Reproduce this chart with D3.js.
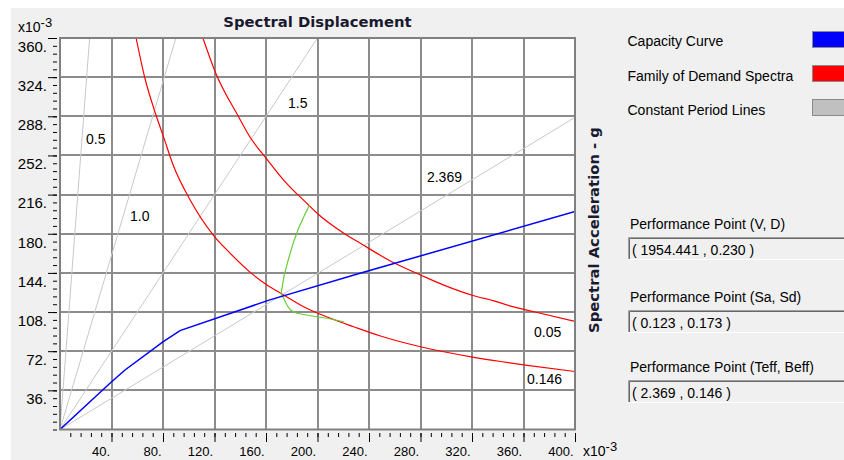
<!DOCTYPE html>
<html>
<head>
<meta charset="utf-8">
<script src="https://cdn.jsdelivr.net/npm/d3@7"></script>
<style>
  body { margin: 0; background: #fff; }
  svg { display: block; }
</style>
</head>
<body>
<div id="chart"></div>
<script>
// --- DATA (Sd, Sa in units of 1e-3) ---
const xTicks = [40, 80, 120, 160, 200, 240, 280, 320, 360, 400];
const yTicks = [36, 72, 108, 144, 180, 216, 252, 288, 324, 360];

const capacityCurve = [[0, 0], [38.8, 42.5], [50.5, 54.7], [80.2, 80.7], [93.2, 90.9],
  [163, 119.2], [233, 143.6], [400, 200.5]];

const demand005 = [[111, 360], [120.5, 329], [138.7, 287.6], [147.8, 268.5], [160.8, 248.5],
  [173.7, 229.4], [193.1, 206.4], [199.7, 198.8], [220.1, 180.7], [233.3, 171.2], [259.2, 153.3],
  [280, 142.1], [298.1, 132.8], [321.5, 123], [337, 118.3], [350, 113.5], [368.1, 108.3], [400, 99.5]];

const demand0146 = [[59.1, 360], [66.1, 322.3], [73.9, 291.5], [80.3, 269.5], [88.1, 242.5],
  [101.1, 211], [119.2, 178.5], [132.2, 162], [147.8, 144.5], [160.8, 132.9], [173.7, 123.7],
  [189.2, 112.9], [210, 102.3], [228.1, 94.5], [248.9, 86], [280, 76.1], [321.5, 66.4],
  [342.2, 62.5], [363, 59], [400, 53.3]];

const demandLocus = [[193.9, 206.4], [190.6, 198.8], [185.3, 185], [181.5, 172.7], [177.6, 157.4],
  [174.2, 142.1], [171.7, 125.2], [173.7, 120.6], [176.3, 114.5], [178.9, 109.9], [184.1, 106.9],
  [194.4, 104.6], [207.4, 102.3], [220.4, 99.1]];

// constant period lines: from origin to where they leave the plot
const periodLines = [
  { label: "0.5", end: [23, 360], at: [20.2, 262.5] },
  { label: "1.0", end: [90, 360], at: [54.4, 191.7] },
  { label: "1.5", end: [200, 360], at: [177.1, 295.6] },
  { label: "2.369", end: [400, 287], at: [285, 227.6] }
];

const dampingLabels = [
  { label: "0.05", at: [368.2, 85.1] },
  { label: "0.146", at: [362.7, 41.8] }
];

const legendItems = [
  { label: "Capacity Curve", color: "#0000ff" },
  { label: "Family of Demand Spectra", color: "#ff0000" },
  { label: "Constant Period Lines", color: "#c0c0c0" }
];

const perfPoints = [
  { label: "Performance Point (V, D)", value: "( 1954.441 , 0.230 )" },
  { label: "Performance Point (Sa, Sd)", value: "( 0.123 , 0.173 )" },
  { label: "Performance Point (Teff, Beff)", value: "( 2.369 , 0.146 )" }
];

// --- LAYOUT ---
const width = 844, height = 460;
const sansFont = "'Liberation Sans', Arial, sans-serif";
const boldFont = "'DejaVu Sans', Verdana, sans-serif";

const svg = d3.select("#chart").append("svg")
  .attr("width", width)
  .attr("height", height);

svg.append("rect")
  .attr("x", 11).attr("y", 8)
  .attr("width", width - 11).attr("height", height - 8)
  .attr("fill", "#f0f0f0");

const x = d3.scaleLinear().domain([0, 400]).range([60, 575]);
const y = d3.scaleLinear().domain([0, 360]).range([429.5, 38]);

// plot area
svg.append("rect")
  .attr("x", x(0)).attr("y", y(360))
  .attr("width", x(400) - x(0)).attr("height", y(0) - y(360))
  .attr("fill", "#fff");

svg.append("defs").append("clipPath").attr("id", "plot-clip")
  .append("rect")
  .attr("x", x(0)).attr("y", y(360))
  .attr("width", x(400) - x(0)).attr("height", y(0) - y(360));

// grid
const grid = svg.append("g").attr("stroke", "#8c8c8c").attr("stroke-width", 2);
grid.selectAll(".vgrid")
  .data(xTicks.filter(d => d < 400))
  .join("line")
  .attr("x1", d => Math.round(x(d))).attr("x2", d => Math.round(x(d)))
  .attr("y1", y(0)).attr("y2", y(360));
grid.selectAll(".hgrid")
  .data(yTicks.filter(d => d < 360))
  .join("line")
  .attr("x1", x(0)).attr("x2", x(400))
  .attr("y1", d => Math.round(y(d))).attr("y2", d => Math.round(y(d)));

const plot = svg.append("g").attr("clip-path", "url(#plot-clip)");
const line = d3.line().x(d => x(d[0])).y(d => y(d[1]));
const smoothLine = d3.line().x(d => x(d[0])).y(d => y(d[1])).curve(d3.curveMonotoneX);

// constant period lines
plot.selectAll(".period")
  .data(periodLines)
  .join("line")
  .attr("x1", x(0)).attr("y1", y(0))
  .attr("x2", d => x(d.end[0])).attr("y2", d => y(d.end[1]))
  .attr("stroke", "#c8c8c8")
  .attr("stroke-width", 1);

// demand spectra
[demand005, demand0146].forEach(s => {
  plot.append("path")
    .datum(s)
    .attr("d", smoothLine)
    .attr("fill", "none")
    .attr("stroke", "#ff0000")
    .attr("stroke-width", 1.2);
});

// green locus
plot.append("path")
  .datum(demandLocus)
  .attr("d", line)
  .attr("fill", "none")
  .attr("stroke", "#66cc33")
  .attr("stroke-width", 1.2);

// capacity curve
plot.append("path")
  .datum(capacityCurve)
  .attr("d", line)
  .attr("fill", "none")
  .attr("stroke", "#0000ff")
  .attr("stroke-width", 1.5);

// frame
svg.append("rect")
  .attr("x", x(0)).attr("y", y(360))
  .attr("width", x(400) - x(0)).attr("height", y(0) - y(360))
  .attr("fill", "none")
  .attr("stroke", "#808080")
  .attr("stroke-width", 2);

// annotation labels
const annot = svg.append("g")
  .style("font-family", sansFont)
  .style("font-size", "14px")
  .attr("fill", "#000");
annot.selectAll(".plabel")
  .data(periodLines.concat(dampingLabels))
  .join("text")
  .attr("x", d => x(d.at[0]))
  .attr("y", d => y(d.at[1]))
  .text(d => d.label);

// --- AXES ---
const yMinor = d3.range(0, 361, 7.2);
const xMinor = d3.range(8, 401, 8);

svg.append("g")
  .attr("transform", "translate(57,0)")
  .call(d3.axisLeft(y).tickValues(yMinor).tickSize(4).tickFormat(""))
  .call(g => g.select(".domain").remove())
  .attr("color", "#000");

const yAxis = svg.append("g")
  .attr("transform", "translate(57,0)")
  .call(d3.axisLeft(y).tickValues(yTicks).tickSize(9).tickPadding(1).tickFormat(d => d + "."))
  .call(g => g.select(".domain").remove())
  .attr("color", "#000");
yAxis.selectAll("text")
  .attr("y", 8)
  .attr("dy", "0.35em")
  .style("font-family", sansFont)
  .style("font-size", "15px");

svg.append("g")
  .attr("transform", "translate(0,433)")
  .call(d3.axisBottom(x).tickValues(xMinor).tickSize(4).tickFormat(""))
  .call(g => g.select(".domain").remove())
  .attr("color", "#000");

const xAxis = svg.append("g")
  .attr("transform", "translate(0,433)")
  .call(d3.axisBottom(x).tickValues(xTicks).tickSize(9).tickFormat(d => d + "."))
  .call(g => g.select(".domain").remove())
  .attr("color", "#000");
xAxis.selectAll("text")
  .attr("x", -2)
  .attr("y", 23)
  .attr("dy", 0)
  .attr("text-anchor", "end")
  .style("font-family", sansFont)
  .style("font-size", "13px");

// x10-3 multipliers
function multiplier(px, py) {
  const t = svg.append("text")
    .attr("x", px).attr("y", py)
    .style("font-family", sansFont)
    .style("font-size", "14px")
    .attr("fill", "#000");
  t.append("tspan").text("x10");
  t.append("tspan").attr("dy", -5).style("font-size", "13px").text("-3");
}
multiplier(18, 32);
multiplier(583, 456);

// title
svg.append("text")
  .attr("x", (x(0) + x(400)) / 2)
  .attr("y", 26.5)
  .attr("text-anchor", "middle")
  .style("font-family", boldFont)
  .style("font-weight", "bold")
  .style("font-size", "14.8px")
  .attr("fill", "#1a1a2e")
  .text("Spectral Displacement");

// right axis title
svg.append("text")
  .attr("transform", "translate(598.5,230) rotate(-90)")
  .attr("text-anchor", "middle")
  .style("font-family", boldFont)
  .style("font-weight", "bold")
  .style("font-size", "14.8px")
  .attr("fill", "#1a1a2e")
  .text("Spectral Acceleration - g");

// --- LEGEND ---
const legend = svg.append("g");
legend.selectAll("text")
  .data(legendItems)
  .join("text")
  .attr("x", 627.5)
  .attr("y", (d, i) => 46 + i * 34.5)
  .style("font-family", sansFont)
  .style("font-size", "14px")
  .attr("fill", "#000")
  .text(d => d.label);
legend.selectAll("rect")
  .data(legendItems)
  .join("rect")
  .attr("x", 812.5)
  .attr("y", (d, i) => 31.5 + i * 34)
  .attr("width", 40)
  .attr("height", 16)
  .attr("fill", d => d.color)
  .attr("stroke", "#8a8a8a")
  .attr("stroke-width", 1);

// --- PERFORMANCE POINT BOXES ---
const boxTops = [237, 310, 380];
const boxes = svg.append("g");
perfPoints.forEach((p, i) => {
  const top = boxTops[i];
  boxes.append("text")
    .attr("x", 630).attr("y", top - 8)
    .style("font-family", sansFont)
    .style("font-size", "14px")
    .attr("fill", "#000")
    .text(p.label);
  boxes.append("rect")
    .attr("x", 628).attr("y", top)
    .attr("width", 230).attr("height", 23)
    .attr("fill", "#f0f0f0");
  // sunken border
  boxes.append("path")
    .attr("d", `M628.5,${top + 23}V${top + 0.5}H860`)
    .attr("fill", "none").attr("stroke", "#a0a0a0");
  boxes.append("path")
    .attr("d", `M629.5,${top + 22}V${top + 1.5}H860`)
    .attr("fill", "none").attr("stroke", "#696969");
  boxes.append("path")
    .attr("d", `M628,${top + 22.5}H860`)
    .attr("fill", "none").attr("stroke", "#ffffff");
  boxes.append("text")
    .attr("x", 632).attr("y", top + 18)
    .style("font-family", sansFont)
    .style("font-size", "14px")
    .attr("fill", "#000")
    .text(p.value);
});
</script>
</body>
</html>
